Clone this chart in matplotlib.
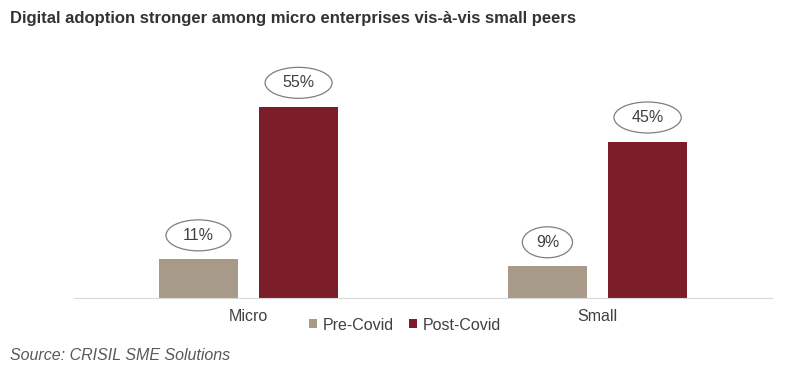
import matplotlib.pyplot as plt
from matplotlib.patches import Ellipse
import numpy as np

plt.rcParams['font.family'] = ['Liberation Sans', 'DejaVu Sans']

categories = ['Micro', 'Small']
pre_covid = [11, 9]
post_covid = [55, 45]
series_names = ['Pre-Covid', 'Post-Covid']

pre_color = '#a79a88'
post_color = '#7b1e29'
text_color = '#404040'

fig = plt.figure(figsize=(7.86, 3.79), dpi=100)
W, H = 786, 379
ax = fig.add_axes([74 / W, (H - 297.5) / H, 698 / W, 208 / H])

x = np.arange(len(categories))
bw = 0.224
off = 0.1435
b1 = ax.bar(x - off, pre_covid, bw, color=pre_color, label=series_names[0])
b2 = ax.bar(x + off, post_covid, bw, color=post_color, label=series_names[1])

ax.set_xlim(-0.5, 1.5)
ax.set_ylim(0, 60)
ax.set_xticks(x)
ax.set_xticklabels(categories, fontsize=11.5, color=text_color)
ax.tick_params(axis='x', length=0, pad=8)
ax.set_yticks([])
for s in ['top', 'right', 'left']:
    ax.spines[s].set_visible(False)
ax.spines['bottom'].set_color('#d9d9d9')
ax.spines['bottom'].set_linewidth(0.8)

# value labels inside ellipses (ellipse sized from the text width)
renderer = fig.canvas.get_renderer()
px_x = ax.transData.transform((1, 0))[0] - ax.transData.transform((0, 0))[0]
px_y = ax.transData.transform((0, 1))[1] - ax.transData.transform((0, 0))[1]
lift = 24  # px above bar top
for bars, vals in ((b1, pre_covid), (b2, post_covid)):
    for rect, v in zip(bars, vals):
        cx = rect.get_x() + rect.get_width() / 2
        cy = rect.get_height() + lift / px_y
        t = ax.text(cx, cy, f'{v}%', ha='center', va='center', fontsize=11.5,
                    color=text_color, zorder=4)
        tw = t.get_window_extent(renderer=renderer).width
        ax.add_patch(Ellipse((cx, cy), (tw * 1.9 + 6) / px_x, 31 / px_y,
                             fc='white', ec='#7f7f7f', lw=0.9, zorder=3, clip_on=False))

fig.legend(loc='center', bbox_to_anchor=(405 / W, 1 - 325 / H), ncol=2, frameon=False,
           fontsize=11.5, handlelength=0.5, handleheight=0.5, handletextpad=0.35,
           columnspacing=1.0, labelcolor=text_color)

fig.text(10 / W, 1 - 18 / H, 'Digital adoption stronger among micro enterprises vis-à-vis small peers',
         fontsize=12, fontweight='bold', color='#333333', va='center', ha='left')
fig.text(10 / W, 1 - 355 / H, 'Source: CRISIL SME Solutions', fontsize=11.5, style='italic',
         color='#595959', va='center', ha='left')

fig.savefig('out.png', dpi=100)
